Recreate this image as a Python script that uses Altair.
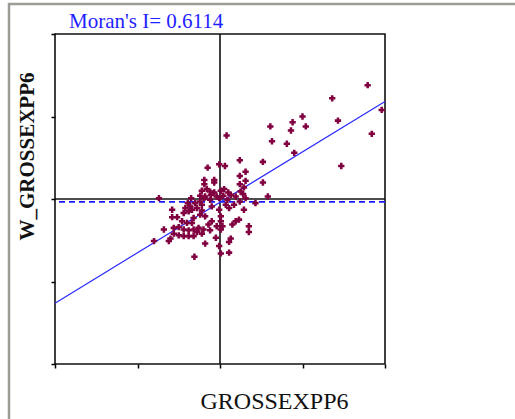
import altair as alt
import pandas as pd

# Standardised values (z)
GROSSEXPP6 = [1.79, 1.36, 1.96, 1.00, 1.43, 0.88, 0.61, 1.04, 0.86, 1.84, 0.63, 0.81, 0.90, 1.47,
              0.52, 0.52, 0.58, 0.08,
              -0.15, -0.01, 0.06, 0.24, 0.31, 0.24, -0.19, -0.07, -0.19, -0.07, 0.31, 0.24, 0.29,
              -0.22, -0.16, -0.12, -0.07, 0.01, 0.05, 0.10, 0.25,
              -0.24, -0.18, -0.11, -0.04, 0.04, 0.13, 0.19, 0.28, 0.31, -0.19, -0.12, -0.01, 0.09,
              -0.74, -0.35,
              0.24, 0.43, 0.17, 0.07, -0.10, -0.22, -0.24, -0.30, -0.39, -0.36, -0.42, 0.11, 0.29,
              -0.58, -0.34, -0.44, -0.38, -0.28, -0.22, -0.18, -0.24, -0.58, -0.52, -0.32, -0.46,
              -0.40, -0.34, -0.10, 0.01, 0.23, 0.19, -0.14, 0.03, 0.15, 0.35, 0.35, 0.01, -0.12,
              -0.20, -0.26, -0.32, -0.38, -0.44, -0.50, -0.56, -0.68, -0.28, -0.22, -0.56, -0.50,
              -0.44, -0.38, -0.32, -0.60, -0.62, -0.80, -0.05, 0.13, 0.11, -0.18, -0.01, 0.01, 0.11,
              -0.31, -0.01, 0.01, -0.04]
W_GROSSEXPP6 = [1.38, 1.22, 1.08, 1.00, 0.95, 0.93, 0.88, 0.88, 0.83, 0.79, 0.70, 0.67, 0.56, 0.40,
                0.45, 0.20, 0.03, 0.77,
                0.38, 0.42, 0.40, 0.47, 0.33, 0.28, 0.23, 0.23, 0.18, 0.20, 0.22, 0.18, 0.14,
                0.10, 0.12, 0.09, 0.08, 0.10, 0.12, 0.08, 0.09,
                0.04, 0.03, 0.05, 0.03, 0.04, 0.05, 0.03, 0.06, 0.01, 0.01, -0.01, 0.01, -0.01,
                0.01, 0.01,
                -0.03, -0.05, -0.07, -0.07, -0.09, -0.07, -0.03, -0.05, -0.05, -0.09, -0.11, -0.11, -0.13,
                -0.13, -0.13, -0.17, -0.15, -0.11, -0.14, -0.21, -0.19, -0.22, -0.22, -0.23, -0.27,
                -0.29, -0.29, -0.27, -0.27, -0.25, -0.27, -0.31, -0.33, -0.31, -0.33, -0.40, -0.37, -0.38,
                -0.37, -0.35, -0.37, -0.38, -0.37, -0.34, -0.35, -0.37, -0.40, -0.42, -0.42, -0.44,
                -0.45, -0.45, -0.45, -0.48, -0.51, -0.51, -0.47, -0.48, -0.52, -0.54, -0.57, -0.66, -0.65,
                -0.70, -0.13, -0.21, -0.33]

MORAN_I = 0.6114
FIT_INTERCEPT = -0.04
LAG_MEAN = -0.035
DOMAIN = [-2, 2]
TICKS = [-2, -1, 0, 1, 2]
TITLE = "Moran's I= 0.6114"
SERIF = "Liberation Serif"

pts = pd.DataFrame({"x": GROSSEXPP6, "y": W_GROSSEXPP6})
fit = pd.DataFrame({"x": DOMAIN, "y": [FIT_INTERCEPT + MORAN_I * v for v in DOMAIN]})
zero = pd.DataFrame({"v": [0]})
mean_df = pd.DataFrame({"v": [LAG_MEAN]})

xs = alt.Scale(domain=DOMAIN, nice=False, zero=False)
ys = alt.Scale(domain=DOMAIN, nice=False, zero=False)

x_axis = alt.Axis(values=TICKS, labels=False, grid=False, domain=False, ticks=True,
                  tickSize=4, tickColor="#000000", tickWidth=1.5,
                  title="GROSSEXPP6", titleFont=SERIF, titleFontSize=24,
                  titleFontWeight="normal", titleColor="#111111",
                  titleX=219, titleY=44, titleBaseline="alphabetic", titleAlign="center")
y_axis = alt.Axis(values=TICKS, labels=False, grid=False, domain=False, ticks=True,
                  tickSize=4, tickColor="#000000", tickWidth=1.5,
                  title="W_GROSSEXPP6", titleFont=SERIF, titleFontSize=21,
                  titleFontWeight="bold", titleColor="#111111",
                  titleX=-22, titleY=122, titleBaseline="alphabetic", titleAngle=-90,
                  titleAlign="center")

base_points = alt.Chart(pts).mark_point(shape="cross", filled=True, size=40, color="#800040",
                                        opacity=1).encode(
    x=alt.X("x:Q", scale=xs, axis=x_axis),
    y=alt.Y("y:Q", scale=ys, axis=y_axis),
)

vline = alt.Chart(zero).mark_rule(color="#111111", strokeWidth=1.6).encode(x=alt.X("v:Q", scale=xs))
hline = alt.Chart(zero).mark_rule(color="#111111", strokeWidth=1.6).encode(y=alt.Y("v:Q", scale=ys))
mline = alt.Chart(mean_df).mark_rule(color="#1a1aff", strokeWidth=1.6, strokeDash=[6, 4]).encode(
    y=alt.Y("v:Q", scale=ys))
fit_line = alt.Chart(fit).mark_line(color="#2a2aff", strokeWidth=1.2).encode(
    x=alt.X("x:Q", scale=xs), y=alt.Y("y:Q", scale=ys))

frame_left = alt.Chart(zero).mark_rule(color="#9c9c94", strokeWidth=2.5).encode(
    x=alt.value(-46), y=alt.value(-31), y2=alt.value(390))
frame_top = alt.Chart(zero).mark_rule(color="#9c9c94", strokeWidth=2.5).encode(
    x=alt.value(-47), x2=alt.value(465), y=alt.value(-30))

chart = alt.layer(frame_left, frame_top, vline, hline, mline, fit_line, base_points).properties(
    width=330, height=330,
    background="#ffffff",
    title=alt.TitleParams(TITLE, anchor="start", frame="group", dx=14, dy=47, offset=0,
                          baseline="alphabetic", font=SERIF, fontSize=21,
                          fontWeight="normal", color="#1f1fff"),
    autosize=alt.AutoSizeParams(type="none"),
    padding={"left": 55, "top": 34, "right": 130, "bottom": 55},
).configure_view(stroke="#111111", strokeWidth=1.6)

chart.save("out.html", embed_options={"renderer": "svg", "actions": False})
